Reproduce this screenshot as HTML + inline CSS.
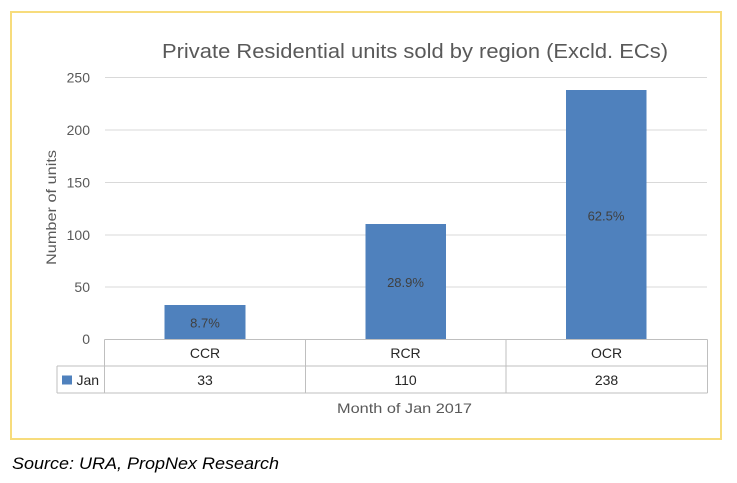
<!DOCTYPE html>
<html>
<head>
<meta charset="utf-8">
<style>
  html, body { margin:0; padding:0; background:#ffffff; }
  body { width:737px; height:483px; overflow:hidden; }
  svg { display:block; }
  .t { font-family:"Liberation Sans", "DejaVu Sans", sans-serif; }
</style>
</head>
<body>
<svg width="737" height="483" viewBox="0 0 737 483" xmlns="http://www.w3.org/2000/svg">
  <!-- yellow frame -->
  <rect x="11" y="12" width="710" height="427" fill="#ffffff" stroke="#f7dc7c" stroke-width="2"/>

  <!-- title -->
  <text class="t" x="162" y="58" font-size="20" fill="#595959" textLength="506" lengthAdjust="spacingAndGlyphs">Private Residential units sold by region (Excld. ECs)</text>

  <!-- gridlines -->
  <g stroke="#d9d9d9" stroke-width="1">
    <line x1="105" y1="77.5" x2="707" y2="77.5"/>
    <line x1="105" y1="130" x2="707" y2="130"/>
    <line x1="105" y1="182.5" x2="707" y2="182.5"/>
    <line x1="105" y1="235" x2="707" y2="235"/>
    <line x1="105" y1="287" x2="707" y2="287"/>
  </g>

  <!-- y tick labels -->
  <g class="t" font-size="14" fill="#595959" text-anchor="end">
    <text x="90" y="82.5">250</text>
    <text x="90" y="135">200</text>
    <text x="90" y="187.5">150</text>
    <text x="90" y="240">100</text>
    <text x="90" y="292">50</text>
    <text x="90" y="344">0</text>
  </g>

  <!-- y axis title -->
  <text class="t" font-size="14" fill="#595959" text-anchor="middle" transform="translate(56,207.5) rotate(-90)" textLength="115" lengthAdjust="spacingAndGlyphs">Number of units</text>

  <!-- bars -->
  <g fill="#4f81bd">
    <rect x="164.5" y="305" width="81" height="34.5"/>
    <rect x="365.5" y="224" width="80.5" height="115.5"/>
    <rect x="566" y="90" width="80.5" height="249.5"/>
  </g>

  <!-- bar labels -->
  <g class="t" font-size="13" fill="#404040" text-anchor="middle">
    <text x="205" y="327.5">8.7%</text>
    <text x="405.5" y="287">28.9%</text>
    <text x="606" y="220.5">62.5%</text>
  </g>

  <!-- data table -->
  <g stroke="#bfbfbf" stroke-width="1" fill="none">
    <line x1="104.5" y1="339.5" x2="707.5" y2="339.5"/>
    <line x1="57" y1="366" x2="707.5" y2="366"/>
    <line x1="57" y1="393" x2="707.5" y2="393"/>
    <line x1="57" y1="366" x2="57" y2="393"/>
    <line x1="104.5" y1="339.5" x2="104.5" y2="393"/>
    <line x1="305.5" y1="339.5" x2="305.5" y2="393"/>
    <line x1="506" y1="339.5" x2="506" y2="393"/>
    <line x1="707.5" y1="339.5" x2="707.5" y2="393"/>
  </g>
  <g class="t" font-size="14" fill="#262626" text-anchor="middle">
    <text x="205" y="358">CCR</text>
    <text x="405.5" y="358">RCR</text>
    <text x="606.5" y="358">OCR</text>
    <text x="205" y="385">33</text>
    <text x="405.5" y="385">110</text>
    <text x="606.5" y="385">238</text>
  </g>
  <rect x="62" y="375.5" width="10" height="9" fill="#4f81bd"/>
  <text class="t" x="76.5" y="385" font-size="14" fill="#262626">Jan</text>

  <!-- x axis title -->
  <text class="t" x="337" y="413" font-size="14" fill="#595959" textLength="135" lengthAdjust="spacingAndGlyphs">Month of Jan 2017</text>

  <!-- source -->
  <text class="t" x="12" y="469" font-size="17" font-style="italic" fill="#000000" textLength="267" lengthAdjust="spacingAndGlyphs">Source: URA, PropNex Research</text>
</svg>
</body>
</html>
